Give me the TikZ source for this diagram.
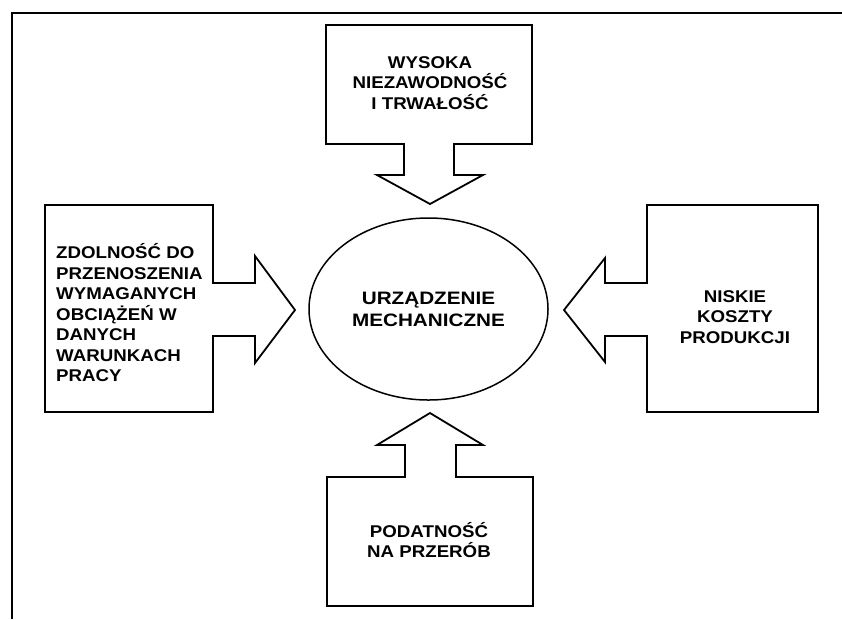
\documentclass[tikz,border=0pt]{standalone}
\usepackage{fontspec}
\usetikzlibrary{shapes.geometric}
\newfontfamily\lblfont{Liberation Sans}[FakeStretch=1.1]
\newfontfamily\ctrfont{Liberation Sans}[FakeStretch=1.15]
\begin{document}
\begin{tikzpicture}[x=1pt,y=-1pt,
  outline/.style={draw=black,line width=1.8pt,line join=miter},
  boxtext/.style={font=\lblfont\bfseries\fontsize{17}{20.5}\selectfont,inner sep=0pt},
  centertext/.style={font=\ctrfont\bfseries\fontsize{18}{22}\selectfont,inner sep=0pt}]
  \useasboundingbox (0,0) rectangle (842,619);
  % page frame
  \draw[line width=2pt] (12,619) -- (12,13) -- (842,13);

  % central ellipse
  \node[draw,line width=1.5pt,ellipse,minimum width=239pt,minimum height=182pt,
        inner sep=0pt,align=center,centertext] (dev) at (428.5,309)
        {URZĄDZENIE\\MECHANICZNE};

  % top box with arrow pointing down
  \draw[outline] (326,25) -- (532,25) -- (532,144) -- (454,144) -- (454,175)
     -- (483,175) -- (430,204) -- (377,175) -- (404,175) -- (404,144)
     -- (326,144) -- cycle;
  \node[boxtext,align=center] (top) at (430,83) {WYSOKA\\NIEZAWODNOŚĆ\\I TRWAŁOŚĆ};

  % left box with arrow pointing right
  \draw[outline] (45,205) -- (213,205) -- (213,283) -- (255,283) -- (255,256)
     -- (295,310) -- (255,363) -- (255,336) -- (213,336) -- (213,412)
     -- (45,412) -- cycle;
  \node[boxtext,align=left,anchor=west] (left) at (56,313)
     {ZDOLNOŚĆ DO\\PRZENOSZENIA\\WYMAGANYCH\\OBCIĄŻEŃ W\\DANYCH\\WARUNKACH\\PRACY};

  % right box with arrow pointing left
  \draw[outline] (818,205) -- (647,205) -- (647,283) -- (605,283) -- (605,258)
     -- (564,310) -- (605,362) -- (605,336) -- (647,336) -- (647,412)
     -- (818,412) -- cycle;
  \node[boxtext,align=center] (right) at (735,317) {NISKIE\\KOSZTY\\PRODUKCJI};

  % bottom box with arrow pointing up
  \draw[outline] (327,606) -- (533,606) -- (533,477) -- (456,477) -- (456,445)
     -- (483,445) -- (430,413) -- (377,445) -- (405,445) -- (405,477)
     -- (327,477) -- cycle;
  \node[boxtext,align=center] (bottom) at (429,540) {PODATNOŚĆ\\NA PRZERÓB};
\end{tikzpicture}
\end{document}
